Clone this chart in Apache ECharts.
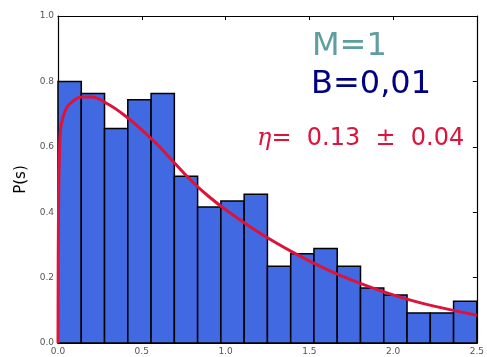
<!DOCTYPE html>
<html>
<head>
<meta charset="utf-8">
<script src="https://cdn.jsdelivr.net/npm/echarts@6/dist/echarts.min.js"></script>
<style>
  html, body { margin: 0; padding: 0; background: #fff; }
  #chart { width: 487px; height: 357px; }
</style>
</head>
<body>
<div id="chart"></div>
<script>
// histogram: 18 bins over 0..2.5
var binCount = 18
var xMax = 2.5
var heights = [0.80, 0.763, 0.656, 0.744, 0.763, 0.51, 0.416, 0.434, 0.455,
               0.235, 0.273, 0.289, 0.235, 0.168, 0.147, 0.092, 0.092, 0.128]

// fitted curve
var curveS = [0, 0.003, 0.01, 0.02, 0.05, 0.09, 0.14, 0.2, 0.3, 0.4, 0.5, 0.6, 0.7, 0.8, 0.9,
              1.0, 1.2, 1.4, 1.6, 1.8, 2.0, 2.2, 2.5]
var curveP = [0, 0.40, 0.60, 0.67, 0.718, 0.74, 0.752, 0.752, 0.73, 0.695, 0.652, 0.603, 0.548,
              0.494, 0.448, 0.408, 0.338, 0.278, 0.226, 0.183, 0.147, 0.118, 0.085]

var xTicks = [0, 0.5, 1.0, 1.5, 2.0, 2.5]
var yTicks = [0, 0.2, 0.4, 0.6, 0.8, 1.0]

var binWidth = xMax / binCount
var bars = heights.map(function (h, i) { return [i * binWidth, (i + 1) * binWidth, h] })
var curve = curveS.map(function (s, i) { return [s, curveP[i]] })

var chart = echarts.init(document.getElementById('chart'))

var fmt = function (v) { return v.toFixed(1) }
var tickLabel = { fontFamily: 'DejaVu Sans', fontSize: 9, color: '#555' }
var frameLine = { show: true, onZero: false, lineStyle: { color: '#000', width: 1.2 } }
var inTick = { show: true, inside: true, length: 4, lineStyle: { color: '#000' } }

chart.setOption({
  animation: false,
  grid: { left: 58, right: 8, top: 16, bottom: 14 },
  xAxis: [{
    type: 'value', min: 0, max: xMax, interval: 0.5,
    axisLine: frameLine, axisTick: inTick,
    axisLabel: Object.assign({ formatter: fmt, margin: 4 }, tickLabel),
    splitLine: { show: false }
  }, {
    type: 'value', min: 0, max: xMax, interval: 0.5, position: 'top',
    axisLine: frameLine, axisTick: inTick,
    axisLabel: { show: false },
    splitLine: { show: false }
  }],
  yAxis: [{
    type: 'value', min: 0, max: 1.0, interval: 0.2,
    name: 'P(s)', nameLocation: 'middle', nameGap: 27,
    nameTextStyle: { fontFamily: 'DejaVu Sans', fontSize: 15, color: '#000' },
    axisLine: frameLine, axisTick: inTick,
    axisLabel: Object.assign({ formatter: fmt, margin: 4 }, tickLabel),
    splitLine: { show: false }
  }, {
    type: 'value', min: 0, max: 1.0, interval: 0.2, position: 'right',
    axisLine: frameLine, axisTick: inTick,
    axisLabel: { show: false },
    splitLine: { show: false }
  }],
  series: [{
    type: 'custom',
    data: bars,
    renderItem: function (params, api) {
      var p0 = api.coord([api.value(0), api.value(2)])
      var p1 = api.coord([api.value(1), 0])
      return {
        type: 'rect',
        shape: { x: p0[0], y: p0[1], width: p1[0] - p0[0], height: p1[1] - p0[1] },
        style: { fill: '#4169E1', stroke: '#000', lineWidth: 1.5 }
      }
    },
    z: 2
  }, {
    type: 'line',
    data: curve,
    smooth: 0.4,
    showSymbol: false,
    lineStyle: { color: '#DC143C', width: 3 },
    z: 3
  }],
  graphic: [
    { type: 'text', left: 312, top: 31,
      style: { text: 'M=1', fontFamily: 'DejaVu Sans', fontSize: 32, fill: '#5F9EA0' } },
    { type: 'text', left: 311, top: 69,
      style: { text: 'B=0,01', fontFamily: 'DejaVu Sans', fontSize: 32, fill: '#000080' } },
    { type: 'text', left: 257, top: 127,
      style: { text: '{e|η}=  0.13  ±  0.04', fontFamily: 'DejaVu Sans', fontSize: 24, fill: '#DC143C',
        rich: { e: { fontFamily: 'DejaVu Serif', fontStyle: 'italic', fontSize: 24, fill: '#DC143C' } } } }
  ]
})
</script>
</body>
</html>
